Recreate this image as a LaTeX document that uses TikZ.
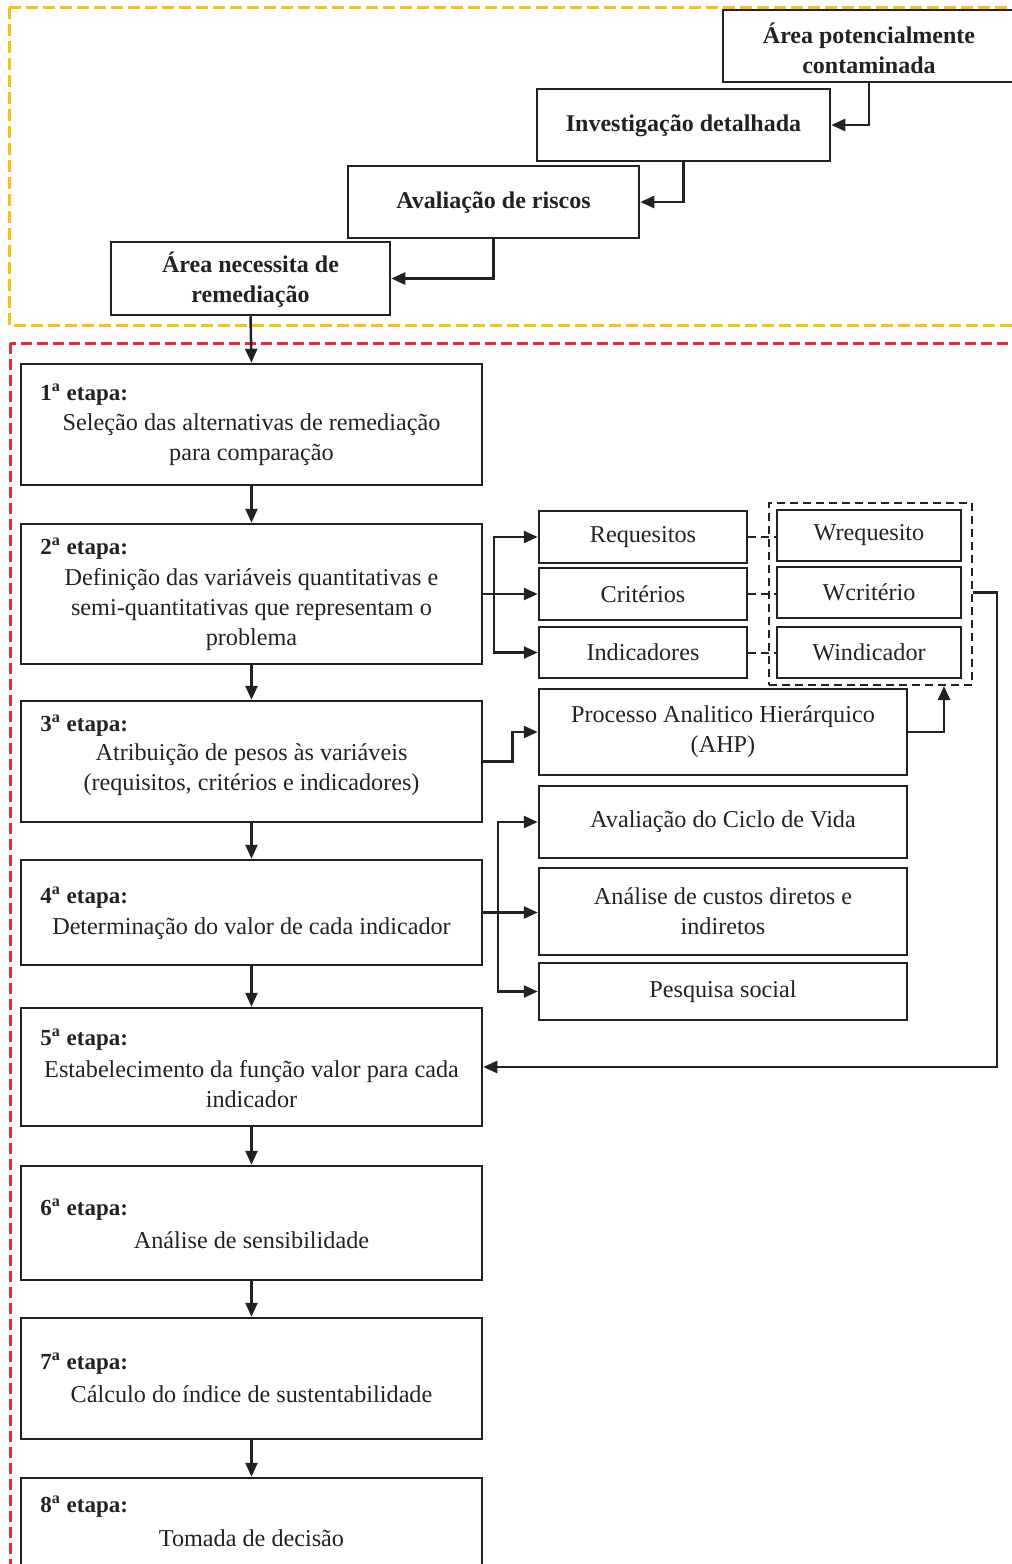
\documentclass[tikz,border=0pt]{standalone}
\usepackage{fontspec}
\setmainfont{Liberation Serif}
\usetikzlibrary{arrows.meta,calc}
\definecolor{ink}{HTML}{222222}
\definecolor{orng}{HTML}{FDBE1A}
\definecolor{rd}{HTML}{EE2A35}
\newcommand\mybox[6]{\node[boxst,minimum width={(#4-#2)*0.5pt},minimum height={(#5-#3)*0.5pt}] (#1) at ({(#2+#4)/2},{(#3+#5)/2}) {#6};}
\tikzset{
  boxst/.style={draw=ink,line width=1.25pt,inner sep=0pt,align=center,text=ink,font=\fontsize{12.1}{15}\selectfont},
  lbl/.style={anchor=west,inner sep=0pt,text=ink,font=\bfseries\fontsize{11.5}{15}\selectfont},
  body/.style={inner sep=0pt,align=center,text=ink,font=\fontsize{12.1}{15}\selectfont},
  bbody/.style={body,font=\bfseries\fontsize{12}{15}\selectfont},
  arr/.style={draw=ink,line width=1.25pt,-{Triangle[length=7pt,width=6pt]}},
  ln/.style={draw=ink,line width=1.25pt},
  dsh/.style={draw=ink,line width=1pt,dash pattern=on 4pt off 2.5pt},
}
\begin{document}
\begin{tikzpicture}[x=0.5pt,y=-0.5pt]
\useasboundingbox (0,0) rectangle (1012,1564);
% frames
\draw[orng,line width=1.5pt,dash pattern=on 6pt off 2.5pt] (9,7) rectangle (1040,325);
\draw[rd,line width=1.5pt,dash pattern=on 5.5pt off 2.5pt] (10,343) rectangle (1040,1620);
% top chain
\mybox{a1}{723}{10}{1015}{82}{}
\node[bbody] (a1t) at (869,48) {Área potencialmente\\contaminada};
\mybox{a2}{537}{89}{830}{161}{}
\node[bbody] (a2t) at (683.5,126) {Investigação detalhada};
\mybox{a3}{348}{166}{639}{238}{}
\node[bbody] (a3t) at (493.5,203) {Avaliação de riscos};
\mybox{a4}{111}{242}{390}{315}{}
\node[bbody] (a4t) at (250.5,280) {Área necessita de\\remediação};
\draw[arr] (a1.south) |- (a2.east);
\draw[arr] (a2.south) |- (a3.east);
\draw[arr] (a3.south) |- (a4.east);
% etapas
\mybox{s1}{21}{364}{482}{485}{}
\mybox{s2}{21}{524}{482}{664}{}
\mybox{s3}{21}{701}{482}{822}{}
\mybox{s4}{21}{860}{482}{965}{}
\mybox{s5}{21}{1008}{482}{1126}{}
\mybox{s6}{21}{1166}{482}{1280}{}
\mybox{s7}{21}{1318}{482}{1439}{}
\mybox{s8}{21}{1478}{482}{1620}{}
\node[lbl] (l1) at (40,395) {1\textsuperscript{a} etapa:};
\node[body] (t1) at (251.5,440) {Seleção das alternativas de remediação\\para comparação};
\node[lbl] (l2) at (40,549) {2\textsuperscript{a} etapa:};
\node[body] (t2) at (251.5,610) {Definição das variáveis quantitativas e\\semi-quantitativas que representam o\\problema};
\node[lbl] (l3) at (40,726) {3\textsuperscript{a} etapa:};
\node[body] (t3) at (251.5,770) {Atribuição de pesos às variáveis\\(requisitos, critérios e indicadores)};
\node[lbl] (l4) at (40,898) {4\textsuperscript{a} etapa:};
\node[body] (t4) at (251.5,929) {Determinação do valor de cada indicador};
\node[lbl] (l5) at (40,1040) {5\textsuperscript{a} etapa:};
\node[body] (t5) at (251.5,1084) {Estabelecimento da função valor para cada\\indicador};
\node[lbl] (l6) at (40,1210) {6\textsuperscript{a} etapa:};
\node[body] (t6) at (251.5,1240) {Análise de sensibilidade};
\node[lbl] (l7) at (40,1364) {7\textsuperscript{a} etapa:};
\node[body] (t7) at (251.5,1394) {Cálculo do índice de sustentabilidade};
\node[lbl] (l8) at (40,1507) {8\textsuperscript{a} etapa:};
\node[body] (t8) at (251.5,1538) {Tomada de decisão};
\draw[arr] (a4.south) -- (s1.north);
\draw[arr] (s1.south) -- (s2.north);
\draw[arr] (s2.south) -- (s3.north);
\draw[arr] (s3.south) -- (s4.north);
\draw[arr] (s4.south) -- (s5.north);
\draw[arr] (s5.south) -- (s6.north);
\draw[arr] (s6.south) -- (s7.north);
\draw[arr] (s7.south) -- (s8.north);
% variables
\mybox{req}{539}{511}{747}{563}{Requesitos}
\mybox{cri}{539}{568}{747}{620}{Critérios}
\mybox{ind}{539}{627}{747}{678}{Indicadores}
\mybox{wreq}{777}{510}{961}{561}{Wrequesito}
\mybox{wcri}{777}{567}{961}{618}{Wcritério}
\mybox{wind}{777}{627}{961}{678}{Windicador}
\node[dsh,draw,inner sep=0pt,minimum width={203*0.5pt},minimum height={182*0.5pt}] (wgrp) at (870.5,594) {};
\draw[dsh] (req.east) -- (req.east -| wreq.west);
\draw[dsh] (cri.east) -- (cri.east -| wcri.west);
\draw[dsh] (ind.east) -- (ind.east -| wind.west);
\coordinate (f2) at (494,594);
\draw[arr] (s2.east) -- (s2.east -| cri.west);
\draw[arr] (f2) |- (req.west);
\draw[arr] (f2) |- (ind.west);
% AHP
\mybox{ahp}{539}{689}{907}{775}{Processo Analitico Hierárquico\\(AHP)}
\draw[arr] (s3.east) -- ++(29,0) |- (ahp.west);
\draw[arr] (ahp.east) -| ($(wgrp.south)+(73.5,0)$);
\draw[arr] (wgrp.east |- wcri.east) -- ++(24,0) |- (s5.east);
% etapa 4 methods
\mybox{acv}{539}{786}{907}{858}{Avaliação do Ciclo de Vida}
\mybox{cus}{539}{868}{907}{955}{Análise de custos diretos e\\indiretos}
\mybox{pes}{539}{963}{907}{1020}{Pesquisa social}
\coordinate (f4) at (498,912.5);
\draw[arr] (s4.east) -- (s4.east -| cus.west);
\draw[arr] (f4) |- (acv.west);
\draw[arr] (f4) |- (pes.west);
\end{tikzpicture}
\end{document}
